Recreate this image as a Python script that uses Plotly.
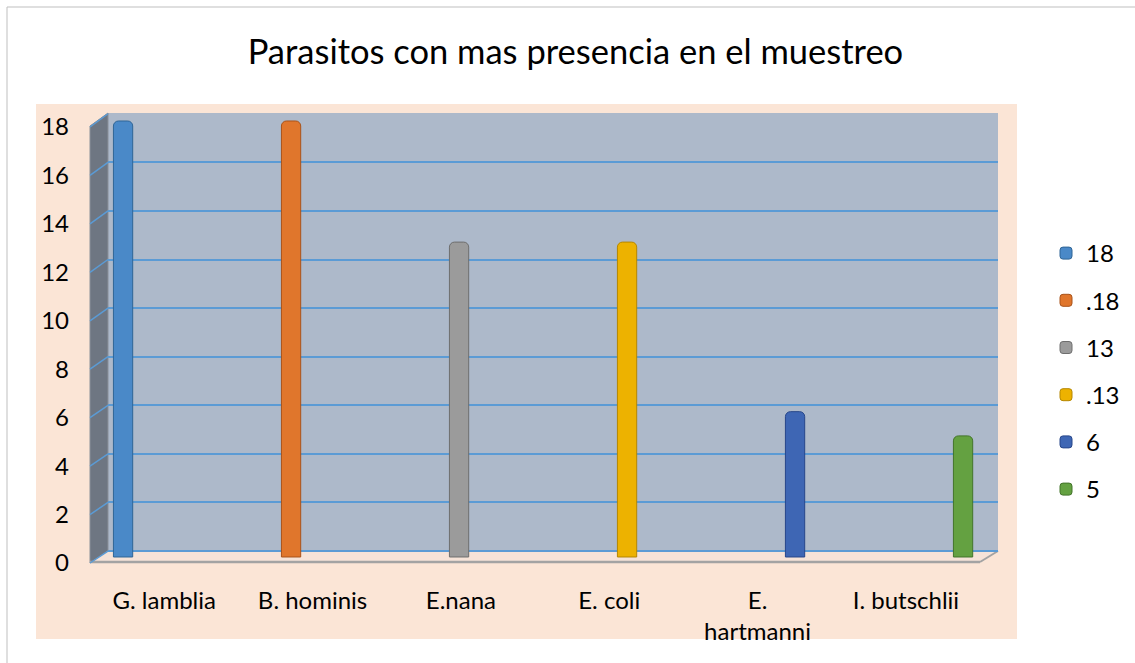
import plotly.graph_objects as go

# ---------------- data ----------------
categories = ["G. lamblia", "B. hominis", "E.nana", "E. coli", "E.<br>hartmanni", "I. butschlii"]
series_names = ["18", ".18", "13", ".13", "6", "5"]
series_values = [18, 18, 13, 13, 6, 5]
y_tick_vals = [0, 2, 4, 6, 8, 10, 12, 14, 16, 18]
y_tick_text = ["0", "2", "4", "6", "8", "10", "12", "14", "16", "18"]
title_text = "Parasitos con mas presencia en el muestreo"

# ---------------- styles ----------------
colors = ["#4A89C8", "#E0762C", "#9B9B9B", "#EDB200", "#3E66B4", "#64A141"]
edge_colors = ["#2F6596", "#A9531A", "#6E6E6E", "#B58700", "#27468A", "#43742A"]
FONT = "Lato, 'Open Sans', 'Liberation Sans', sans-serif"

W, H = 1135, 663
L, R = 108, 998          # plot area left/right px
T, B = 113, 570          # plot area top/bottom px
PW, PH = R - L, B - T

GRID_RANGE = [-0.78, 18.03]     # back wall grid axis
LABEL_RANGE = [-0.289, 18.578]  # front label axis
SIDE_FRONT_X, SIDE_BACK_X = 90, 108


def px(xp):
    return (xp - L) / PW


def py(yp):
    return (B - yp) / PH


def frac(v, rng):
    return (v - rng[0]) / (rng[1] - rng[0])


fig = go.Figure()

n = len(categories)
for k, (name, val) in enumerate(zip(series_names, series_values)):
    yvals = [val if i == k else None for i in range(n)]
    fig.add_trace(go.Bar(
        x=categories, y=yvals, name=name,
        marker=dict(color=colors[k], line=dict(color=edge_colors[k], width=1),
                    cornerradius=5),
        legendgroup=name,
        yaxis="y",
    ))

# invisible helpers so the overlay axes are drawn
fig.add_trace(go.Scatter(x=categories, y=series_values, mode="markers",
                         marker=dict(opacity=0), showlegend=False,
                         hoverinfo="skip", yaxis="y2"))
fig.add_trace(go.Scatter(x=categories, y=series_values, mode="markers",
                         marker=dict(opacity=0), showlegend=False,
                         hoverinfo="skip", yaxis="y3"))

shapes = [
    # outer chart border
    dict(type="rect", xref="paper", yref="paper", x0=px(7), x1=px(1160),
         y0=py(7), y1=py(690), line=dict(color="#BFBFBF", width=1),
         fillcolor="rgba(0,0,0,0)", layer="below"),
    # peach plot background
    dict(type="rect", xref="paper", yref="paper", x0=px(36), x1=px(1017),
         y0=py(104), y1=py(639), line=dict(width=0), fillcolor="#FBE5D6",
         layer="below"),
    # back wall
    dict(type="rect", xref="paper", yref="paper", x0=px(108), x1=px(998),
         y0=py(113), y1=py(551), line=dict(width=0), fillcolor="#ADB9CA",
         layer="below"),
    # side wall
    dict(type="path", xref="paper", yref="paper",
         path=f"M {px(90)},{py(126)} L {px(108)},{py(113)} L {px(108)},{py(551)} L {px(90)},{py(563)} Z",
         line=dict(color="#8A9099", width=1), fillcolor="#6E7682", layer="below"),
    # floor
    dict(type="path", xref="paper", yref="paper",
         path=f"M {px(90)},{py(563)} L {px(108)},{py(551)} L {px(998)},{py(551)} L {px(980)},{py(563)} Z",
         line=dict(width=0), fillcolor="#F6E3D8", layer="below"),
    dict(type="line", xref="paper", yref="paper", x0=px(90), x1=px(980),
         y0=py(562), y1=py(562), line=dict(color="#A3A3A3", width=2.5), layer="below"),
    dict(type="line", xref="paper", yref="paper", x0=px(980), x1=px(998),
         y0=py(562), y1=py(551), line=dict(color="#A3A3A3", width=2), layer="below"),
]

# diagonal grid lines on the side wall, following the tick values
for v in y_tick_vals:
    shapes.append(dict(
        type="line", xref="paper", yref="paper",
        x0=px(SIDE_FRONT_X), x1=px(SIDE_BACK_X),
        y0=frac(v, LABEL_RANGE), y1=frac(v, GRID_RANGE),
        line=dict(color="#5B9BD5", width=1.5), layer="below"))

fig.update_layout(
    width=W, height=H,
    margin=dict(l=L, r=W - R, t=T, b=H - B, pad=0, autoexpand=False),
    paper_bgcolor="white",
    plot_bgcolor="rgba(0,0,0,0)",
    font=dict(family=FONT, size=24, color="#000000"),
    title=dict(text=title_text, x=0.507, xanchor="center", y=1 - 52 / H,
               yanchor="middle", yref="container",
               font=dict(family=FONT, size=34.5, color="#000000")),
    barmode="group",
    bargap=0.2045,
    bargroupgap=0.02,
    showlegend=True,
    legend=dict(x=px(1046), y=py(231), xanchor="left", yanchor="top",
                font=dict(family=FONT, size=24, color="#000000"),
                bgcolor="rgba(0,0,0,0)", tracegroupgap=13,
                itemwidth=30),
    shapes=shapes,
    xaxis=dict(
        type="category", range=[-0.433, 5.567],
        showgrid=False, zeroline=False, showline=False, ticks="",
        tickfont=dict(family=FONT, size=24, color="#000000"),
        ticklabelstandoff=14, ticklabelshift=-8,
    ),
    yaxis=dict(  # bars
        range=[-0.537, 18.33], showgrid=False, zeroline=False,
        showticklabels=False, showline=False, ticks="",
    ),
    yaxis2=dict(  # back wall grid
        overlaying="y", anchor="x", side="left",
        range=GRID_RANGE, tick0=0, dtick=2,
        showgrid=True, gridcolor="#5B9BD5", gridwidth=1.6,
        zeroline=False, showticklabels=False, showline=False, ticks="",
    ),
    yaxis3=dict(  # front tick labels
        overlaying="y", anchor="x", side="left",
        range=LABEL_RANGE, tickmode="array",
        tickvals=y_tick_vals, ticktext=y_tick_text,
        showgrid=False, zeroline=False, showline=False, ticks="",
        tickfont=dict(family=FONT, size=24, color="#000000"),
        ticklabelstandoff=38,
    ),
)

post = (
    "var s=document.createElement('style');"
    "s.innerHTML='html,body{margin:0;padding:0;overflow:hidden;width:1135px;height:663px;}"
    " .plotly-graph-div{display:block;}';"
    "document.head.appendChild(s);"
)
fig.write_html("out.html", post_script=post,
               config={"displayModeBar": False})
